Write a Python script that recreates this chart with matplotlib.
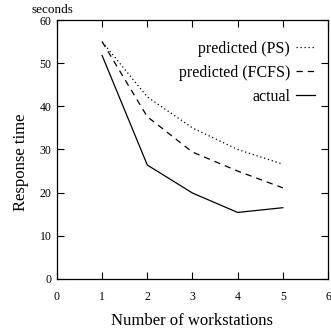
import matplotlib.pyplot as plt

plt.rcParams['font.family'] = ['Liberation Serif', 'DejaVu Serif']

workstations = [1, 2, 3, 4, 5]
predicted_ps = [55.0, 42.2, 35.0, 30.0, 26.6]
predicted_fcfs = [55.0, 37.6, 29.4, 25.0, 21.1]
actual = [51.8, 26.4, 19.9, 15.4, 16.5]

fig = plt.figure(figsize=(3.31, 3.30), dpi=100)
ax = fig.add_axes([0.172, 0.155, 0.819, 0.784])

ax.plot(workstations, predicted_ps, color='black', lw=0.9, linestyle=(0, (1, 2.2)), label='predicted (PS)')
ax.plot(workstations, predicted_fcfs, color='black', lw=0.9, linestyle=(0, (5, 4)), label='predicted (FCFS)')
ax.plot(workstations, actual, color='black', lw=0.9, label='actual')

ax.set_xlim(0, 6)
ax.set_ylim(0, 60)
ax.set_xticks(range(0, 7))
ax.set_yticks(range(0, 61, 10))
ax.tick_params(direction='in', length=5, width=0.8, labelsize=8.5, top=True, right=True)
ax.tick_params(axis='x', pad=9)
ax.tick_params(axis='y', pad=4)
for s in ax.spines.values():
    s.set_linewidth(0.9)

ax.set_xlabel('Number of workstations', fontsize=12, labelpad=7)
ax.set_ylabel('Response time', fontsize=12)
ax.yaxis.set_label_coords(-0.102, 0.45)
fig.text(0.095, 0.952, 'seconds', fontsize=9.5, ha='left', va='bottom')

ax.legend(loc='upper right', frameon=False, markerfirst=False, fontsize=11.5,
          handlelength=1.2, handletextpad=0.35, labelspacing=0.5,
          borderaxespad=0, bbox_to_anchor=(0.975, 0.945))

fig.savefig('out.png', dpi=100)
